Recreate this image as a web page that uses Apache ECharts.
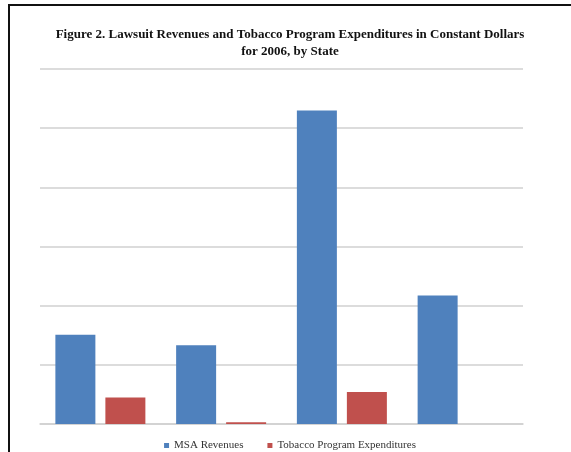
<!DOCTYPE html>
<html>
<head>
<meta charset="utf-8">
<script src="https://cdn.jsdelivr.net/npm/echarts@6/dist/echarts.min.js"></script>
<style>
html, body { margin: 0; padding: 0; width: 571px; height: 452px; overflow: hidden; background: #fff; }
#chart { position: absolute; left: 9px; top: 0; width: 562px; height: 452px; }
.bl { position: absolute; left: 8px; top: 4px; width: 2px; height: 448px; background: #111; }
.bt { position: absolute; left: 8px; top: 4px; width: 563px; height: 2px; background: #111; }
</style>
</head>
<body>
<div id="chart"></div>
<div class="bl"></div>
<div class="bt"></div>
<script>
// Categories (state names are not shown in the figure)
const states = ['State 1', 'State 2', 'State 3', 'State 4'];
// Values in gridline units (axis labels are not shown)
const msaRevenues = [1.51, 1.33, 5.30, 2.17];
const tobaccoProgramExpenditures = [0.45, 0.03, 0.54, 0];
const seriesNames = ['MSA Revenues', 'Tobacco Program Expenditures'];
const titleText = 'Figure 2. Lawsuit Revenues and Tobacco Program Expenditures in Constant Dollars\nfor 2006, by State';

const chart = echarts.init(document.getElementById('chart'), null, { renderer: 'canvas' });
const serif = '"Liberation Serif", "DejaVu Serif", serif';
chart.setOption({
  animation: false,
  backgroundColor: 'transparent',
  title: {
    text: titleText,
    left: 'center',
    top: 26,
    padding: 0,
    textStyle: { fontFamily: serif, fontWeight: 'bold', fontSize: 13, lineHeight: 17, color: '#111' }
  },
  legend: {
    data: seriesNames,
    left: 'center',
    top: 440,
    padding: 0,
    icon: 'rect',
    itemWidth: 5,
    itemHeight: 5,
    itemGap: 24,
    textStyle: { fontFamily: serif, fontSize: 11, color: '#333' }
  },
  grid: { left: 31, right: 48, top: 69, bottom: 28, containLabel: false },
  xAxis: {
    type: 'category',
    data: states,
    axisLine: { show: true, lineStyle: { color: '#D0D0D0', width: 1.5 } },
    axisTick: { show: false },
    axisLabel: { show: false }
  },
  yAxis: {
    type: 'value',
    min: 0,
    max: 6,
    interval: 1,
    axisLine: { show: false },
    axisTick: { show: false },
    axisLabel: { show: false },
    splitLine: { lineStyle: { color: '#D0D0D0', width: 1.5 } }
  },
  series: [
    {
      name: seriesNames[0],
      type: 'bar',
      data: msaRevenues,
      barWidth: 40,
      barGap: '25%',
      itemStyle: { color: '#4F81BD' }
    },
    {
      name: seriesNames[1],
      type: 'bar',
      data: tobaccoProgramExpenditures,
      barWidth: 40,
      barGap: '25%',
      itemStyle: { color: '#C0504D' }
    }
  ]
});
</script>
</body>
</html>
